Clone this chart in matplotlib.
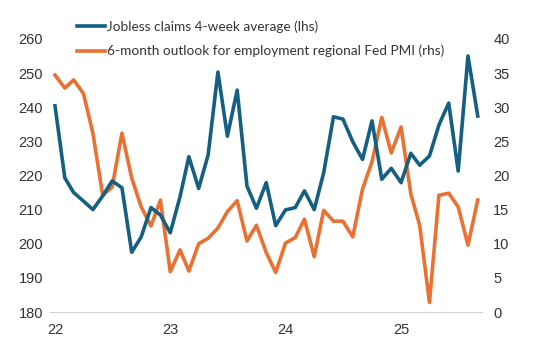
import matplotlib.pyplot as plt
import pandas as pd

# monthly, Jan 2022 - Sep 2025
months = pd.date_range("2022-01-01", periods=45, freq="MS")

jobless_claims = [240.4, 219.3, 215.0, 212.5, 210.0, 214.0, 218.4, 216.4, 197.5, 202.0,
                  210.6, 208.4, 203.2, 213.8, 225.5, 216.2, 226.0, 250.3, 231.5, 245.0,
                  216.9, 210.4, 217.9, 205.3, 209.9, 210.6, 215.5, 210.0, 220.8, 237.2,
                  236.5, 229.9, 224.7, 236.0, 218.9, 222.1, 217.9, 226.5, 223.0, 225.7,
                  234.8, 241.2, 221.3, 255.0, 237.4]

fed_pmi_outlook = [34.7, 32.8, 34.0, 32.0, 26.2, 17.1, 18.3, 26.2, 19.6, 15.4,
                   12.6, 16.4, 5.9, 9.1, 6.0, 10.0, 10.8, 12.3, 14.7, 16.3,
                   10.4, 12.7, 8.7, 5.8, 10.1, 10.9, 13.6, 8.1, 14.9, 13.3,
                   13.3, 11.0, 18.0, 22.0, 28.5, 23.3, 27.1, 17.3, 12.7, 1.4,
                   17.1, 17.4, 15.4, 9.8, 16.4]

year_ticks = pd.to_datetime(["2022-01-01", "2023-01-01", "2024-01-01", "2025-01-01"])
year_labels = ["22", "23", "24", "25"]

blue = "#156082"
orange = "#E97132"

plt.rcParams['font.family'] = ['Liberation Sans', 'DejaVu Sans']

fig = plt.figure(figsize=(5.43, 3.57), dpi=100)
ax = fig.add_axes([0.092, 0.126, 0.796, 0.765])
ax2 = ax.twinx()

l1, = ax.plot(months, jobless_claims, color=blue, linewidth=2.6,
              label="Jobless claims 4-week average (lhs)")
l2, = ax2.plot(months, fed_pmi_outlook, color=orange, linewidth=2.6,
               label="6-month outlook for employment regional Fed PMI (rhs)")
ax.set_zorder(ax2.get_zorder() + 1)
ax.patch.set_visible(False)

ax.set_ylim(180, 260)
ax.set_yticks(range(180, 261, 10))
ax2.set_ylim(0, 40)
ax2.set_yticks(range(0, 41, 5))
ax.set_xlim(months[0] - pd.Timedelta(days=16), months[-1] + pd.Timedelta(days=14))
ax.set_xticks(year_ticks)
ax.set_xticklabels(year_labels)

for a in (ax, ax2):
    for s in a.spines.values():
        s.set_visible(False)
    a.tick_params(length=0, labelsize=10.5, colors="#333333")
ax.spines['bottom'].set_visible(True)
ax.spines['bottom'].set_color("#d0d0d0")
ax.tick_params(axis='y', pad=5)
ax.tick_params(axis='x', pad=8)
ax2.tick_params(axis='y', pad=8)

fig.legend(handles=[l1, l2], loc="upper left", bbox_to_anchor=(0.142, 0.943),
           frameon=False, borderpad=0, borderaxespad=0,
           handlelength=2.05, handletextpad=0.15,
           labelspacing=0.88, labelcolor="#333333",
           prop={'family': ['Lato', 'DejaVu Sans'], 'size': 9.8})

fig.savefig("out.png", dpi=100)
